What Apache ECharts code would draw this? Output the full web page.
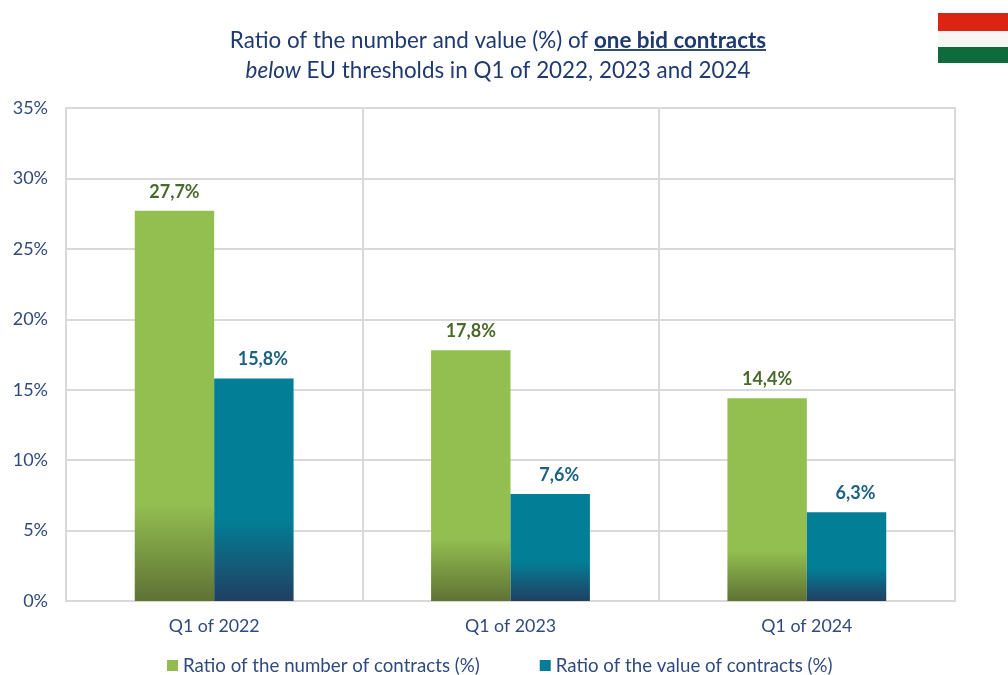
<!DOCTYPE html>
<html><head><meta charset="utf-8">
<style>html,body{margin:0;padding:0;background:#fff}#c{width:1008px;height:675px}</style>
<script src="https://cdn.jsdelivr.net/npm/echarts@6/dist/echarts.min.js"></script>
</head><body><div id="c"></div>
<script>
const categories = ['Q1 of 2022', 'Q1 of 2023', 'Q1 of 2024'];
const numberRatio = [27.7, 17.8, 14.4];
const valueRatio = [15.8, 7.6, 6.3];
const seriesNames = ['Ratio of the number of contracts (%)', 'Ratio of the value of contracts (%)'];
const FONT = 'Lato';
const TXT = '#2f4a7f';
const chart = echarts.init(document.getElementById('c'));
const fmt = v => v.toFixed(1).replace('.', ',') + '%';
function grad(top, bottom, start) {
  return new echarts.graphic.LinearGradient(0, 0, 0, 1, [
    {offset: 0, color: top}, {offset: start, color: top}, {offset: 1, color: bottom}
  ]);
}
function bar(name, data, top, bottom, start, labelColor, labelShift) {
  return {
    name, type: 'bar', data, barWidth: '26.8%', barGap: 0,
    itemStyle: {color: grad(top, bottom, start)},
    label: {show: true, position: 'top', distance: 10, offset: [labelShift, 0], formatter: p => fmt(p.value),
      fontFamily: FONT, fontWeight: 'bold', fontSize: 18, color: labelColor}
  };
}
const titleBase = {fontFamily: FONT, fontSize: 22.4, color: '#1f3a70', lineHeight: 30, fontWeight: 'normal'};
chart.setOption({
  animation: false,
  backgroundColor: '#fff',
  title: {
    left: 493, top: 21, textAlign: 'center',
    text: '{n|Ratio of the number and value (%) of }{b|one bid contracts}\n{i|below}{n| EU thresholds in Q1 of 2022, 2023 and 2024}',
    textStyle: {
      fontWeight: 'normal',
      rich: {
        n: titleBase,
        b: {...titleBase, fontWeight: 'bold'},
        i: {...titleBase, fontStyle: 'italic'}
      }
    }
  },
  grid: {left: 66, right: 53, top: 108, bottom: 74, show: true, borderColor: '#d9d9d9', borderWidth: 2, backgroundColor: 'transparent'},
  legend: {
    left: 162, top: 651, itemWidth: 11, itemHeight: 11, itemGap: 60, icon: 'rect',
    textStyle: {fontFamily: FONT, fontSize: 18.7, color: TXT},
    data: [
      {name: seriesNames[0], itemStyle: {color: '#92bb50'}},
      {name: seriesNames[1], itemStyle: {color: '#037d95'}}
    ]
  },
  xAxis: {
    type: 'category', data: categories,
    axisLine: {show: true, lineStyle: {color: '#d9d9d9', width: 2}},
    axisTick: {show: false},
    splitLine: {show: true, lineStyle: {color: '#d9d9d9', width: 2}},
    axisLabel: {fontFamily: FONT, fontSize: 17.8, color: TXT, margin: 16}
  },
  yAxis: {
    type: 'value', min: 0, max: 35, interval: 5,
    axisLine: {show: false}, axisTick: {show: false},
    splitLine: {show: true, lineStyle: {color: '#d9d9d9', width: 2}},
    axisLabel: {fontFamily: FONT, fontSize: 18, color: TXT, margin: 18, formatter: v => v + '%'}
  },
  series: [
    bar(seriesNames[0], numberRatio, '#93bf50', '#5f7234', 0.75, '#4a6a2c', 0),
    bar(seriesNames[1], valueRatio, '#027f97', '#213f62', 0.63, '#1d6283', 9)
  ],
  graphic: [
    {type: 'rect', silent: true, shape: {x: 938, y: 13, width: 70, height: 18}, style: {fill: '#dc2412'}},
    {type: 'rect', silent: true, shape: {x: 938, y: 31, width: 70, height: 16}, style: {fill: '#f6f6f4'}},
    {type: 'rect', silent: true, shape: {x: 938, y: 47, width: 70, height: 16}, style: {fill: '#0e6b3c'}},
    {type: 'rect', silent: true, shape: {x: 594, y: 49, width: 172, height: 2}, style: {fill: '#2f4a80'}}
  ]
});
</script></body></html>
